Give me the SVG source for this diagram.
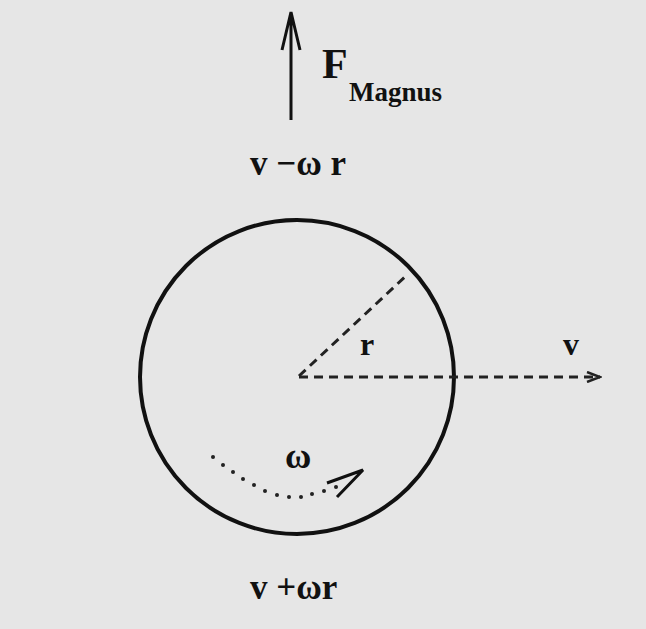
<svg xmlns="http://www.w3.org/2000/svg" width="646" height="629" viewBox="0 0 646 629">
<style>
text{font-family:'Liberation Serif','DejaVu Serif',serif;font-weight:bold;fill:#111}
.s{stroke:#111;fill:none}
.d{stroke:#222;fill:none;stroke-width:3;stroke-dasharray:9,6}
</style>
<defs>
<marker id="open" markerWidth="16" markerHeight="12" refX="14" refY="6" orient="auto" markerUnits="userSpaceOnUse">
<path d="M1,1 L14,6 L1,11" fill="none" stroke="#222" stroke-width="2.5"/>
</marker>
</defs>
<rect width="646" height="629" fill="#e6e6e6"/>
<g id="ball">
<circle cx="297" cy="377" r="157" class="s" stroke-width="4"/>
</g>
<g id="connectors">
<path id="force" class="s" stroke-width="3" d="M291,120 L291,12 M282,50 L291,12 L300,50"/>
<path id="radius" class="d" d="M299,376 L408,274"/>
<path id="velocity" class="d" d="M299,377 L600,377" marker-end="url(#open)"/>
<g id="spin" fill="#222">
<circle cx="213" cy="457" r="2"/><circle cx="223" cy="465" r="2"/><circle cx="233" cy="472" r="2"/>
<circle cx="243" cy="479" r="2"/><circle cx="254" cy="485" r="2"/><circle cx="265" cy="491" r="2"/>
<circle cx="277" cy="495" r="2"/><circle cx="289" cy="497" r="2"/><circle cx="301" cy="497" r="2"/>
<circle cx="312" cy="494" r="2"/><circle cx="324" cy="491" r="2"/><circle cx="336" cy="487" r="2"/>
<path d="M327,483 L363,470 L337,497" class="s" stroke-width="3"/>
</g>
</g>
<g id="labels">
<text x="322" y="78" font-size="42">F</text>
<text x="349" y="101" font-size="27">Magnus</text>
<text x="250" y="175" font-size="35">v −ω r</text>
<text x="360" y="355" font-size="32">r</text>
<text x="563" y="355" font-size="32">v</text>
<text x="285" y="468" font-size="36">ω</text>
<text x="250" y="599" font-size="35">v +ωr</text>
</g>
</svg>
